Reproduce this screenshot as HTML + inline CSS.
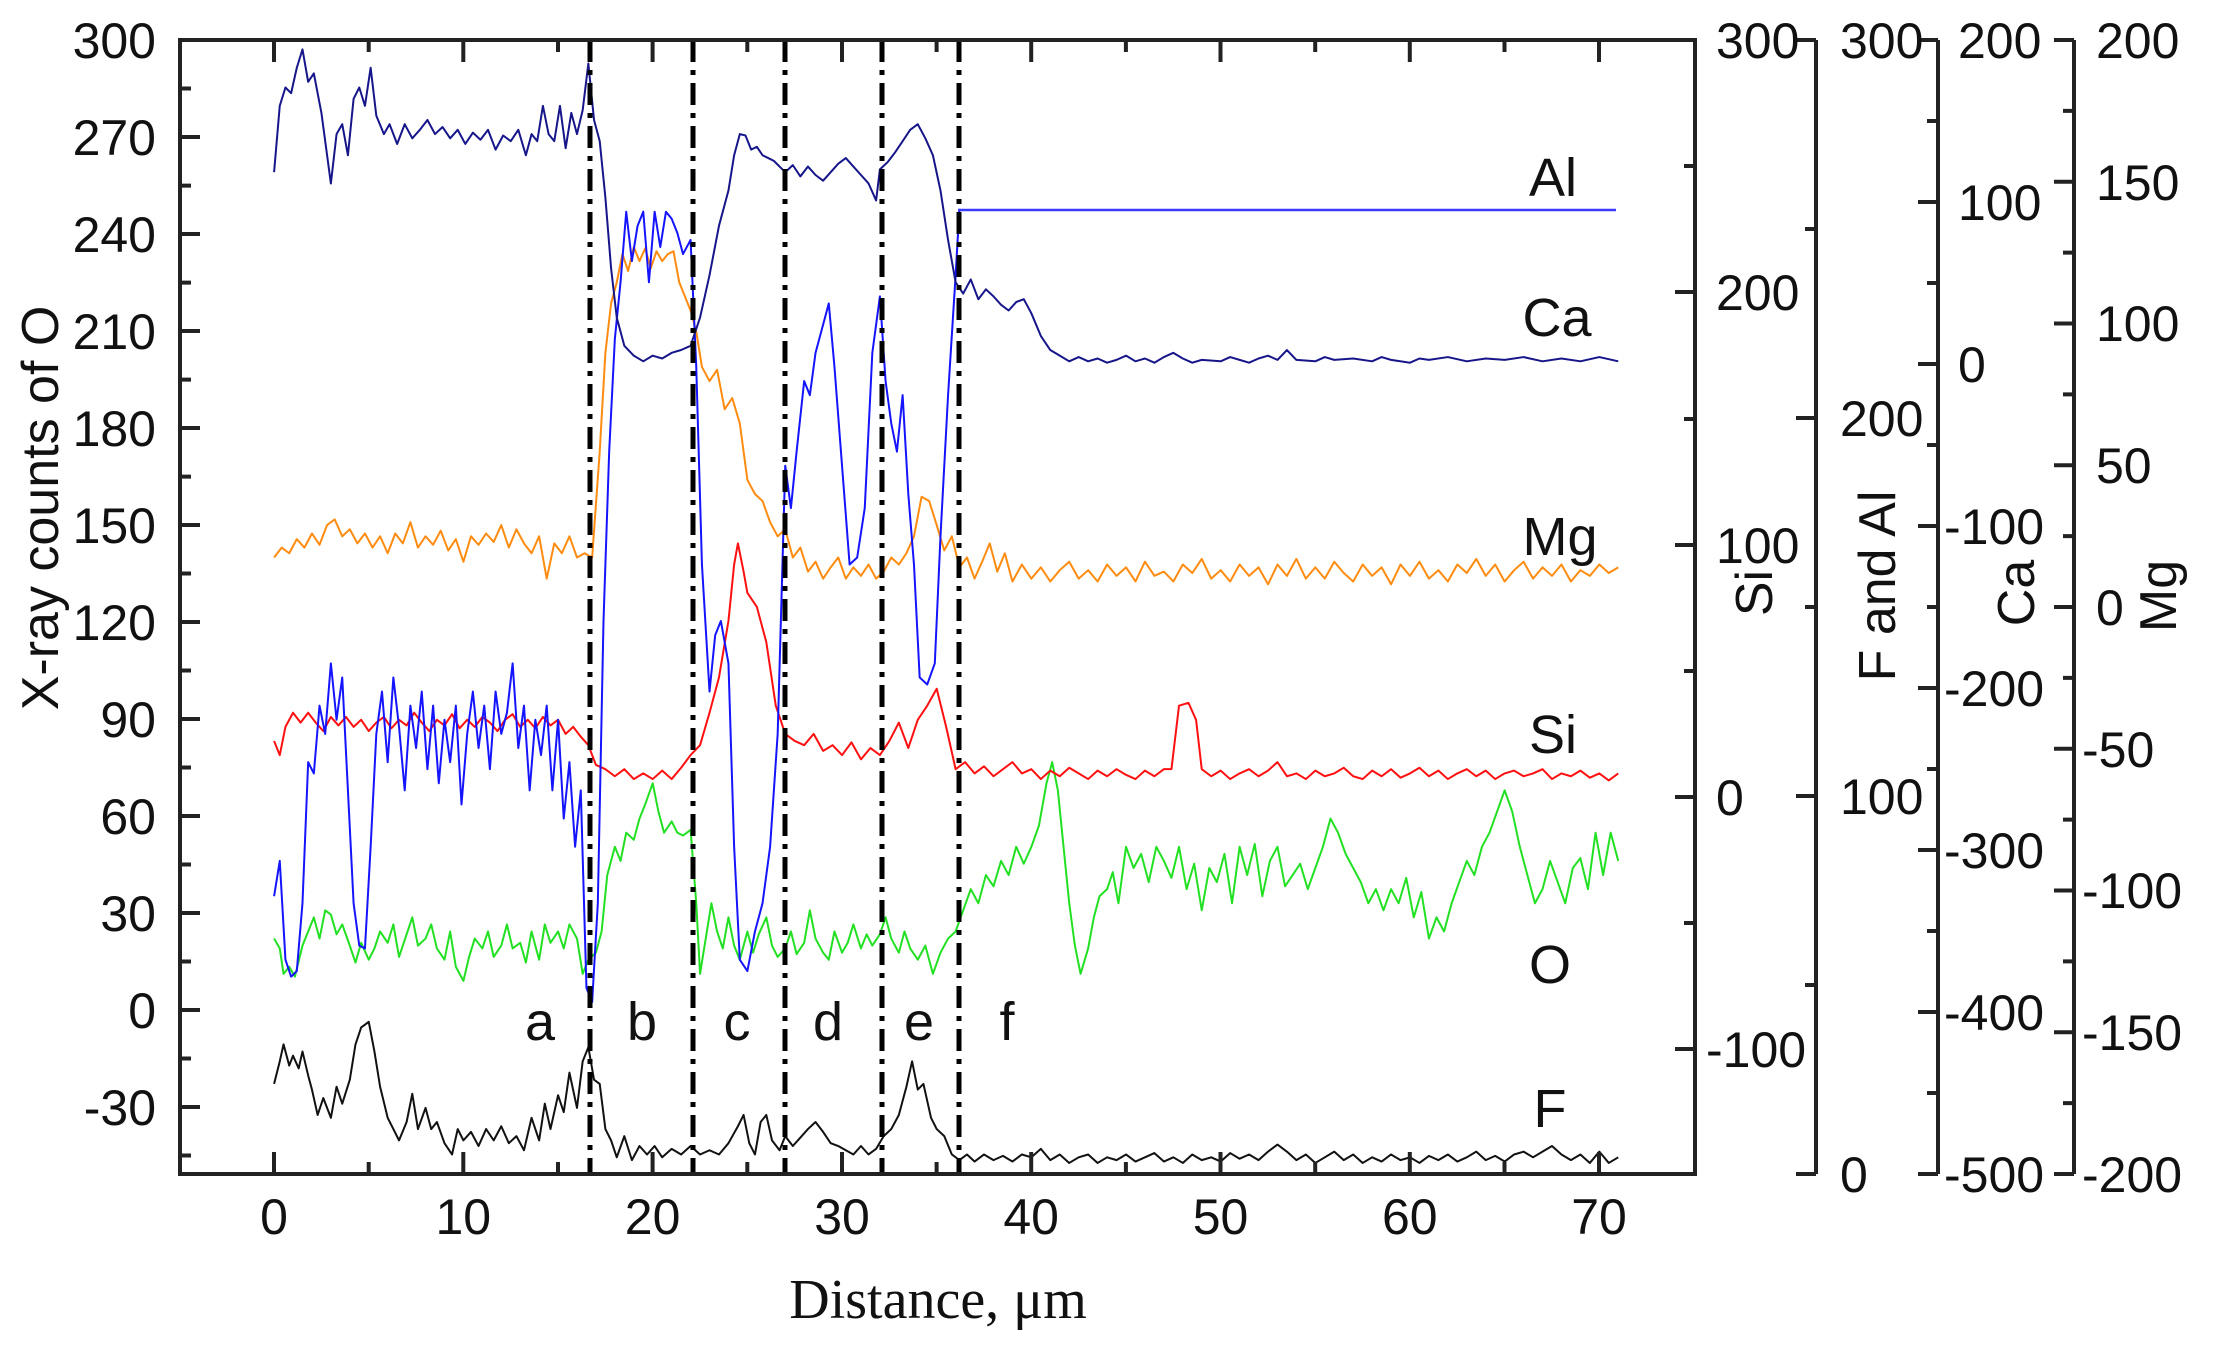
<!DOCTYPE html>
<html><head><meta charset="utf-8"><style>
html,body{margin:0;padding:0;background:#fff;}
svg{display:block;}
text{font-family:"Liberation Sans",Arial,sans-serif;fill:#111;}
polyline{fill:none;stroke-linejoin:round;vector-effect:non-scaling-stroke;stroke-width:2;}
</style></head><body>
<svg xmlns="http://www.w3.org/2000/svg" width="2213" height="1353" viewBox="0 0 2213 1353">
<rect width="2213" height="1353" fill="#fff"/>
<g transform="scale(1.41135) translate(194.2,0) scale(13.414,1)">
<!-- F black -->
<polyline stroke="#111" points="0,768 0.3,752 0.5,740 0.8,755 1,748 1.3,757 1.5,745 1.8,762 2,772 2.3,790 2.6,778 3,792 3.3,770 3.6,782 4,765 4.3,740 4.6,728 4.8,726 5,724 5.3,745 5.6,770 6,792 6.3,800 6.6,808 7,795 7.3,775 7.6,800 8,785 8.3,800 8.6,795 9,810 9.4,818 9.7,800 10,808 10.4,802 10.8,812 11.2,800 11.6,808 12,798 12.4,810 12.8,805 13.2,815 13.6,792 14,808 14.3,782 14.6,800 15,776 15.3,788 15.6,760 16,785 16.3,752 16.6,742 16.9,765 17.2,768 17.5,800 17.8,808 18.1,820 18.5,805 18.9,822 19.3,812 19.7,818 20.1,812 20.5,820 21,814 21.5,818 22,812 22.5,818 23,815 23.5,818 24,810 24.5,798 24.8,790 25.1,810 25.4,818 25.7,795 26,790 26.3,808 26.7,815 27,805 27.4,812 27.8,806 28.2,800 28.6,795 29,802 29.4,810 29.8,812 30.2,815 30.6,818 31,812 31.4,818 31.8,814 32.2,805 32.6,800 33,790 33.4,770 33.7,752 34,772 34.3,768 34.7,792 35,800 35.4,805 35.8,818 36.2,822 36.6,818 37,823 37.5,818 38,822 38.5,819 39,823 39.5,818 40,820 40.5,814 41,822 41.5,818 42,824 42.5,820 43,818 43.5,824 44,820 44.5,822 45,818 45.5,823 46,820 46.5,817 47,823 47.5,820 48,824 48.5,818 49,822 49.5,820 50,823 50.5,817 51,821 51.5,818 52,822 52.5,816 53,811 53.5,816 54,822 54.5,818 55,824 55.5,820 56,816 56.5,822 57,818 57.5,824 58,820 58.5,823 59,818 59.5,822 60,820 60.5,824 61,819 61.5,822 62,818 62.5,823 63,820 63.5,816 64,822 64.5,819 65,823 65.5,818 66,816 66.5,820 67,816 67.5,812 68,818 68.5,822 69,818 69.5,824 70,816 70.5,824 71,820"/>
<!-- O green -->
<polyline stroke="#22e022" points="0,665 0.3,672 0.5,690 0.8,685 1.1,692 1.5,670 1.8,660 2.1,650 2.4,665 2.7,645 3,648 3.3,662 3.6,655 4,670 4.3,682 4.6,668 5,680 5.3,672 5.6,660 6,668 6.3,655 6.6,678 7,662 7.3,650 7.6,670 8,665 8.3,655 8.6,672 9,680 9.3,660 9.6,685 10,695 10.3,678 10.6,665 11,672 11.3,660 11.6,678 12,670 12.3,655 12.6,672 13,668 13.3,682 13.6,660 14,680 14.3,655 14.6,668 15,660 15.3,672 15.6,655 16,665 16.3,690 16.6,680 17,675 17.3,660 17.6,620 18,600 18.3,610 18.6,590 19,595 19.3,580 19.6,570 20,555 20.3,575 20.6,590 21,582 21.3,590 21.6,592 22,588 22.3,640 22.5,690 22.8,665 23.1,640 23.4,660 23.7,672 24,650 24.3,670 24.6,680 25,660 25.3,675 25.6,662 26,650 26.3,670 26.6,678 27,672 27.3,660 27.6,676 28,668 28.3,645 28.6,665 29,675 29.3,680 29.6,660 30,675 30.3,668 30.6,655 31,672 31.3,662 31.6,670 32,662 32.3,650 32.6,665 33,675 33.3,660 33.6,672 34,680 34.4,670 34.8,690 35.2,675 35.6,665 36,660 36.4,645 36.8,630 37.2,640 37.6,620 38,628 38.4,610 38.8,620 39.2,600 39.6,612 40,600 40.4,585 40.8,555 41.1,540 41.4,560 41.7,600 42,640 42.3,670 42.6,690 43,672 43.3,650 43.6,635 44,630 44.3,618 44.6,640 45,600 45.4,615 45.8,605 46.2,625 46.6,600 47,610 47.4,622 47.8,600 48.2,630 48.6,612 49,645 49.4,615 49.8,625 50.2,605 50.6,640 51,600 51.4,620 51.8,598 52.2,635 52.6,610 53,600 53.4,628 53.8,620 54.2,612 54.6,630 55,615 55.4,600 55.8,580 56.2,590 56.6,605 57,615 57.4,625 57.8,640 58.2,630 58.6,645 59,630 59.4,640 59.8,622 60.2,650 60.6,632 61,665 61.4,650 61.8,660 62.2,640 62.6,625 63,610 63.4,620 63.8,600 64.2,590 64.6,575 65,560 65.4,575 65.8,600 66.2,620 66.6,640 67,630 67.4,610 67.8,625 68.2,640 68.6,615 69,608 69.4,630 69.8,590 70.2,620 70.6,590 71,610"/>
<!-- Si red -->
<polyline stroke="#ff1010" points="0,525 0.3,535 0.6,515 1,505 1.4,512 1.8,505 2.2,512 2.6,518 3,508 3.4,514 3.8,508 4.2,515 4.6,510 5,518 5.4,512 5.8,508 6.2,516 6.6,510 7,514 7.4,505 7.8,512 8.2,518 8.6,510 9,514 9.4,506 9.8,516 10.2,510 10.6,515 11,508 11.4,512 11.8,518 12.2,510 12.6,506 13,515 13.4,510 13.8,516 14.2,508 14.6,514 15,510 15.4,520 15.8,515 16.2,522 16.6,528 17,542 17.5,545 18,550 18.5,545 19,552 19.5,548 20,552 20.5,546 21,552 21.5,544 22,535 22.5,528 23,505 23.5,480 24,440 24.3,400 24.5,385 24.8,405 25,420 25.5,430 26,455 26.5,500 27,520 27.5,525 28,528 28.5,520 29,532 29.5,528 30,535 30.5,526 31,538 31.5,530 32,535 32.5,525 33,512 33.5,530 34,510 34.5,500 35,488 35.5,515 36,545 36.5,540 37,548 37.5,543 38,550 38.5,545 39,540 39.5,548 40,545 40.5,552 41,546 41.5,550 42,544 42.5,548 43,552 43.5,546 44,550 44.5,545 45,549 45.5,552 46,546 46.5,550 47,545 47.4,545 47.8,500 48.3,498 48.7,510 49,545 49.5,550 50,546 50.5,552 51,548 51.5,545 52,550 52.5,546 53,540 53.5,550 54,548 54.5,552 55,546 55.5,550 56,548 56.5,544 57,550 57.5,552 58,546 58.5,550 59,545 59.5,551 60,548 60.5,544 61,550 61.5,546 62,552 62.5,548 63,545 63.5,550 64,546 64.5,552 65,548 65.5,546 66,550 66.5,548 67,545 67.5,552 68,548 68.5,550 69,546 69.5,551 70,548 70.5,553 71,548"/>
<!-- Mg orange -->
<polyline stroke="#ff8c10" points="0,395 0.4,388 0.8,392 1.2,382 1.6,388 2,378 2.4,386 2.8,372 3.2,368 3.6,380 4,375 4.4,385 4.8,378 5.2,388 5.6,380 6,392 6.4,378 6.8,385 7.2,370 7.6,388 8,380 8.4,386 8.8,376 9.2,390 9.6,382 10,398 10.4,380 10.8,386 11.2,378 11.6,384 12,372 12.4,388 12.8,375 13.2,385 13.6,392 14,380 14.4,410 14.8,385 15.2,392 15.6,380 16,395 16.4,392 16.8,395 17.2,320 17.5,250 17.8,215 18.1,200 18.4,180 18.7,192 19,175 19.3,185 19.6,176 19.9,190 20.2,178 20.5,185 20.8,180 21.1,178 21.4,200 21.7,210 22,220 22.3,235 22.6,260 23,270 23.4,262 23.8,290 24.2,282 24.6,300 25,340 25.4,350 25.8,355 26.2,370 26.6,380 27,375 27.4,395 27.8,388 28.2,405 28.6,398 29,410 29.4,402 29.8,395 30.2,410 30.6,402 31,408 31.4,400 31.8,410 32.2,405 32.6,395 33,400 33.4,392 33.8,380 34.2,352 34.6,355 35,372 35.4,390 35.8,380 36.2,402 36.6,395 37,410 37.4,398 37.8,385 38.2,405 38.6,392 39,412 39.5,400 40,410 40.5,402 41,412 41.5,404 42,398 42.5,410 43,404 43.5,412 44,400 44.5,408 45,402 45.5,412 46,398 46.5,408 47,405 47.5,412 48,400 48.5,406 49,396 49.5,410 50,404 50.5,412 51,400 51.5,408 52,402 52.5,414 53,400 53.5,408 54,396 54.5,410 55,402 55.5,410 56,398 56.5,406 57,412 57.5,400 58,408 58.5,402 59,414 59.5,400 60,408 60.5,398 61,410 61.5,404 62,412 62.5,400 63,406 63.5,396 64,408 64.5,400 65,412 65.5,404 66,398 66.5,410 67,402 67.5,408 68,400 68.5,412 69,404 69.5,408 70,400 70.5,406 71,402"/>
<!-- Ca bright blue -->
<polyline stroke="#1414ff" points="0,635 0.3,610 0.6,680 0.9,692 1.2,688 1.5,640 1.8,540 2.1,548 2.4,500 2.7,520 3,470 3.3,510 3.6,480 3.9,560 4.2,640 4.5,670 4.8,672 5.1,600 5.4,520 5.7,490 6,540 6.3,480 6.6,515 6.9,560 7.2,500 7.5,530 7.8,490 8.1,545 8.4,500 8.7,555 9,510 9.3,540 9.6,500 9.9,570 10.2,520 10.5,490 10.8,530 11.1,500 11.4,545 11.7,490 12,520 12.3,505 12.6,470 12.9,530 13.2,500 13.5,560 13.8,510 14.1,535 14.4,500 14.7,560 15,510 15.3,580 15.6,540 15.9,600 16.2,560 16.5,700 16.8,710 17.1,640 17.4,440 17.7,320 18,240 18.3,200 18.6,150 18.9,185 19.2,160 19.5,150 19.8,200 20.1,150 20.4,175 20.7,150 21,155 21.3,165 21.6,180 22,170 22.3,260 22.6,400 23,490 23.3,450 23.6,440 24,470 24.3,600 24.6,680 25,688 25.4,660 25.8,640 26.2,600 26.6,520 27,330 27.3,360 27.6,320 28,270 28.3,280 28.6,250 29,230 29.3,215 29.6,260 30,330 30.4,400 30.8,395 31.2,360 31.6,250 32,210 32.3,270 32.6,300 32.9,320 33.2,280 33.5,350 33.8,400 34.1,480 34.5,485 34.9,470 35.2,380 35.6,280 36,195 36.2,148"/>
<!-- dark navy -->
<polyline stroke="#16168a" points="0,122 0.3,75 0.6,62 0.9,66 1.2,48 1.5,35 1.8,58 2.1,52 2.5,80 3,130 3.3,95 3.6,88 3.9,110 4.2,70 4.5,62 4.8,75 5.1,48 5.4,82 5.8,95 6.1,88 6.5,102 6.9,88 7.3,98 7.7,92 8.1,85 8.5,95 8.9,90 9.3,98 9.7,92 10.1,102 10.5,94 10.9,99 11.3,92 11.7,106 12.1,96 12.5,100 12.9,92 13.3,110 13.6,95 13.9,100 14.2,75 14.5,95 14.8,100 15.1,75 15.4,105 15.7,80 16,95 16.3,78 16.6,45 16.9,85 17.2,100 17.5,140 17.8,190 18.1,225 18.5,245 19,252 19.5,256 20,252 20.5,254 21,250 21.5,248 22,245 22.5,225 23,195 23.5,160 24,135 24.3,110 24.6,95 24.9,96 25.2,106 25.5,104 25.8,110 26.1,112 26.4,114 26.7,118 27,122 27.4,117 27.8,125 28.2,118 28.6,124 29,128 29.4,122 29.8,116 30.2,112 30.6,118 31,124 31.4,130 31.8,142 32,120 32.4,115 32.8,108 33.2,100 33.6,92 34,88 34.4,98 34.8,110 35.2,135 35.6,170 36,200 36.4,208 36.8,198 37.2,212 37.6,205 38,210 38.4,216 38.8,220 39.2,214 39.6,212 40,222 40.5,238 41,248 41.5,252 42,256 42.5,253 43,256 43.5,254 44,257 44.5,255 45,252 45.5,256 46,254 46.5,257 47,253 47.5,250 48,254 48.5,257 49,255 50,256 50.5,253 51,255 51.5,257 52,254 52.5,252 53,255 53.5,248 54,255 55,256 55.5,253 56,255 57,254 58,256 58.5,253 59,255 60,257 60.5,254 61,255 62,253 63,256 64,254 65,255 66,253 67,256 68,254 69,256 70,253 71,256"/>
</g>
<!-- Al flat line -->
<line x1="958" y1="210" x2="1616" y2="210" stroke="#3a3aff" stroke-width="2.6"/>
<!-- dash-dot lines -->
<g stroke="#000" stroke-width="5" stroke-dasharray="22 8 5 8">
<line x1="590" y1="40" x2="590" y2="1174"/>
<line x1="693" y1="40" x2="693" y2="1174"/>
<line x1="785" y1="40" x2="785" y2="1174"/>
<line x1="882" y1="40" x2="882" y2="1174"/>
<line x1="959" y1="40" x2="959" y2="1174"/>
</g>
<rect x="180" y="40" width="1515" height="1134" fill="none" stroke="#222" stroke-width="4"/>
<g stroke="#222" stroke-width="4" fill="none">
<path d="M180 40h20M180 88.5h11M180 137h20M180 185.6h11M180 234h20M180 282.6h11M180 331h20M180 379.6h11M180 428h20M180 476.6h11M180 525h20M180 573.5h11M180 622h20M180 670.5h11M180 719h20M180 767.5h11M180 816h20M180 864.5h11M180 913h20M180 961.5h11M180 1010h20M180 1058.5h11M180 1107h20M180 1155.5h11"/>
<path d="M274 1174v-22M368.7 1174v-12M463.3 1174v-22M558 1174v-12M652.6 1174v-22M747.3 1174v-12M842 1174v-22M936.6 1174v-12M1031.2 1174v-22M1125.9 1174v-12M1220.5 1174v-22M1315.2 1174v-12M1409.8 1174v-22M1504.5 1174v-12M1599 1174v-22"/>
<path d="M274 40v22M368.7 40v12M463.3 40v22M558 40v12M652.6 40v22M747.3 40v12M842 40v22M936.6 40v12M1031.2 40v22M1125.9 40v12M1220.5 40v22M1315.2 40v12M1409.8 40v22M1504.5 40v12M1599 40v22"/>
<path d="M1695 166h-11M1695 292h-20M1695 419h-11M1695 545h-20M1695 671h-11M1695 797h-20M1695 923h-11M1695 1049h-20"/>
<path d="M1816 40V1174M1816 40h-20M1816 229h-11M1816 418h-20M1816 607h-11M1816 796h-20M1816 985h-11M1816 1174h-20"/>
<path d="M1938 40V1174M1938 40h-20M1938 121h-11M1938 202h-20M1938 283h-11M1938 364h-20M1938 445h-11M1938 526h-20M1938 607h-11M1938 688h-20M1938 769h-11M1938 850h-20M1938 931h-11M1938 1012h-20M1938 1093h-11M1938 1174h-20"/>
<path d="M2074 40V1174M2074 40h-20M2074 110.9h-11M2074 181.75h-20M2074 252.6h-11M2074 323.5h-20M2074 394.4h-11M2074 465.25h-20M2074 536.1h-11M2074 607h-20M2074 677.9h-11M2074 748.75h-20M2074 819.6h-11M2074 890.5h-20M2074 961.4h-11M2074 1032.25h-20M2074 1103.1h-11M2074 1174h-20"/>
</g>
<g font-size="50" text-anchor="end">
<text x="156" y="58">300</text><text x="156" y="155">270</text><text x="156" y="252">240</text><text x="156" y="349">210</text><text x="156" y="446">180</text><text x="156" y="543">150</text><text x="156" y="640">120</text><text x="156" y="737">90</text><text x="156" y="834">60</text><text x="156" y="931">30</text><text x="156" y="1028">0</text><text x="156" y="1125">-30</text>
</g>
<g font-size="50" text-anchor="middle">
<text x="274" y="1234">0</text><text x="463.3" y="1234">10</text><text x="652.6" y="1234">20</text><text x="842" y="1234">30</text><text x="1031.2" y="1234">40</text><text x="1220.5" y="1234">50</text><text x="1409.8" y="1234">60</text><text x="1599" y="1234">70</text>
</g>
<g font-size="50">
<text x="1716" y="58">300</text><text x="1716" y="310">200</text><text x="1716" y="563">100</text><text x="1716" y="815">0</text><text x="1706" y="1067">-100</text>
<text x="1840" y="58">300</text><text x="1840" y="436">200</text><text x="1840" y="814">100</text><text x="1840" y="1192">0</text>
<text x="1958" y="58">200</text><text x="1958" y="220">100</text><text x="1958" y="382">0</text><text x="1944" y="544">-100</text><text x="1944" y="706">-200</text><text x="1944" y="868">-300</text><text x="1944" y="1030">-400</text><text x="1944" y="1192">-500</text>
<text x="2096" y="58">200</text><text x="2096" y="200">150</text><text x="2096" y="341">100</text><text x="2096" y="483">50</text><text x="2096" y="625">0</text><text x="2082" y="767">-50</text><text x="2082" y="908">-100</text><text x="2082" y="1050">-150</text><text x="2082" y="1192">-200</text>
</g>
<g font-size="52" text-anchor="middle">
<text transform="translate(58,508) rotate(-90)">X-ray counts of O</text>
<text transform="translate(1772,593) rotate(-90)">Si</text>
<text transform="translate(1895,586) rotate(-90)">F and Al</text>
<text transform="translate(2034,593) rotate(-90)">Ca</text>
<text transform="translate(2176,596) rotate(-90)">Mg</text>
</g>
<text x="938" y="1318" text-anchor="middle" font-size="56" style="font-family:'Liberation Serif',serif">Distance, μm</text>
<g font-size="54" text-anchor="middle">
<text x="1553" y="196">Al</text><text x="1557" y="336">Ca</text><text x="1560" y="555">Mg</text><text x="1553" y="753">Si</text><text x="1550" y="983">O</text><text x="1550" y="1127">F</text>
<text x="540" y="1040">a</text><text x="642" y="1040">b</text><text x="737" y="1040">c</text><text x="828" y="1040">d</text><text x="919" y="1040">e</text><text x="1007" y="1040">f</text>
</g>
</svg>
</body></html>
